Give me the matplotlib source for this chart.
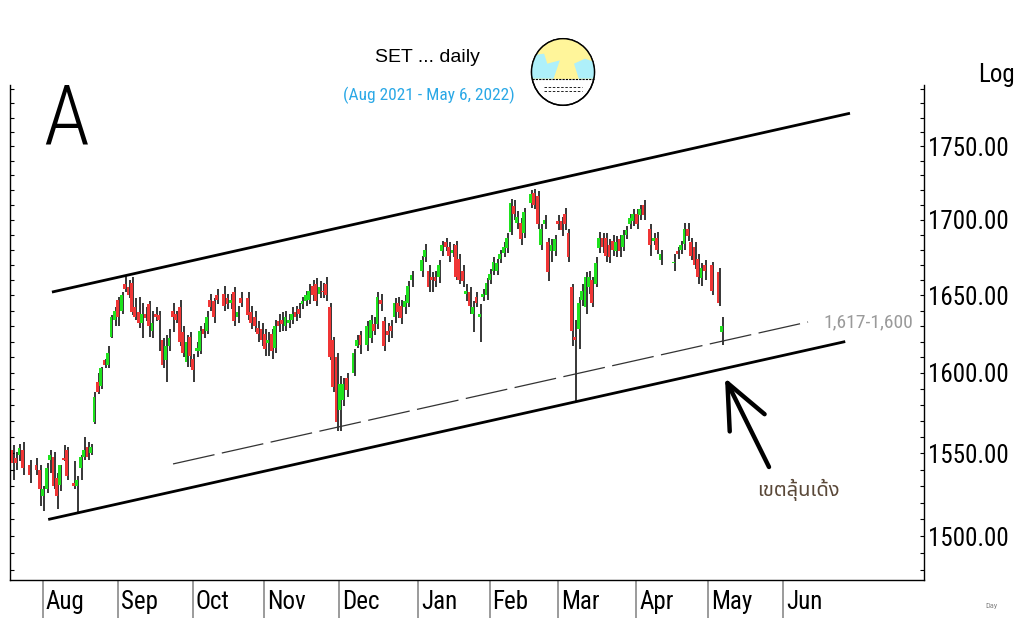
import numpy as np
import pandas as pd
import matplotlib
matplotlib.use("Agg")
import matplotlib.pyplot as plt
from matplotlib import ticker
from matplotlib.patches import Ellipse, Polygon

# SET closed on these weekdays
holidays = ["2021-07-26", "2021-07-28", "2021-08-12", "2021-10-13", "2021-10-22",
            "2021-12-06", "2021-12-10", "2021-12-31", "2022-01-03", "2022-02-16",
            "2022-04-06", "2022-04-13", "2022-04-14", "2022-04-15", "2022-05-02",
            "2022-05-04"]

opens = [
    1552, 1547, 1549, 1552, 1543, 1543, 1540,
    1524, 1528, 1546, 1548, 1535, 1531, 1547, 1552, 1532, 1530, 1541, 1548, 1554, 1550, 1569, 1594, 1592, 1608, 1605, 1623, 1634,
    1647, 1640, 1657, 1655, 1658, 1642, 1639, 1632, 1638, 1644, 1627, 1638, 1637, 1621, 1608, 1617, 1640, 1638, 1642, 1626, 1607, 1623,
    1609, 1614, 1614, 1628, 1627, 1647, 1646, 1650, 1651, 1648, 1645, 1652, 1636, 1648, 1648, 1639, 1636, 1629, 1628,
    1625, 1619, 1625, 1616, 1633, 1634, 1630, 1632, 1634, 1639, 1641, 1644, 1646, 1647, 1656, 1657, 1651, 1653, 1657, 1642, 1621, 1610,
    1577, 1583, 1597, 1600, 1617, 1624, 1618, 1622, 1631, 1631, 1647, 1633, 1627, 1630, 1636, 1645, 1643, 1642, 1645, 1660,
    1666, 1675, 1666, 1662, 1662, 1662, 1679, 1685, 1682, 1678, 1683, 1674, 1666, 1651, 1652, 1638, 1649, 1636, 1649, 1650,
    1660, 1666, 1666, 1674, 1678, 1681, 1692, 1709, 1698, 1698, 1691, 1711, 1718, 1716, 1683, 1697, 1685, 1679, 1679,
    1699, 1699, 1704, 1691, 1655, 1623, 1628, 1647, 1642, 1655, 1660, 1657, 1681, 1688, 1688, 1683, 1686, 1679, 1687, 1682, 1690, 1697, 1699,
    1704, 1703, 1710, 1694, 1686, 1688, 1673, 1671, 1679, 1680, 1684, 1694, 1685, 1682, 1674, 1661, 1670,
    1670, 1665, 1626,
]
highs = [
    1555, 1551, 1556, 1557, 1546, 1547, 1543,
    1530, 1544, 1552, 1551, 1538, 1543, 1555, 1554, 1545, 1536, 1549, 1560, 1557, 1556, 1588, 1600, 1604, 1609, 1617, 1637, 1642,
    1649, 1652, 1663, 1660, 1662, 1648, 1649, 1645, 1642, 1646, 1640, 1642, 1640, 1622, 1624, 1628, 1645, 1640, 1647, 1630, 1624, 1626,
    1612, 1620, 1630, 1632, 1640, 1651, 1648, 1654, 1656, 1651, 1651, 1655, 1643, 1652, 1652, 1643, 1640, 1633, 1632,
    1628, 1626, 1628, 1634, 1638, 1639, 1640, 1638, 1642, 1643, 1645, 1649, 1653, 1657, 1660, 1661, 1659, 1658, 1662, 1645, 1623, 1613,
    1598, 1597, 1600, 1615, 1624, 1627, 1633, 1637, 1636, 1652, 1651, 1636, 1632, 1634, 1648, 1649, 1647, 1650, 1659, 1666,
    1676, 1684, 1670, 1665, 1666, 1673, 1686, 1688, 1685, 1684, 1686, 1677, 1670, 1657, 1655, 1646, 1652, 1644, 1654, 1661,
    1667, 1675, 1674, 1680, 1685, 1691, 1714, 1713, 1706, 1701, 1708, 1720, 1721, 1719, 1697, 1703, 1688, 1687, 1690,
    1703, 1702, 1708, 1694, 1657, 1634, 1649, 1657, 1665, 1666, 1662, 1675, 1692, 1691, 1691, 1687, 1690, 1689, 1690, 1693, 1696, 1704, 1707,
    1707, 1710, 1713, 1697, 1691, 1692, 1680, 1677, 1682, 1686, 1698, 1698, 1688, 1685, 1677, 1671, 1673,
    1672, 1668, 1636,
]
lows = [
    1534, 1540, 1545, 1537, 1532, 1537, 1518,
    1515, 1526, 1538, 1528, 1516, 1527, 1545, 1534, 1528, 1514, 1534, 1546, 1546, 1549, 1568, 1587, 1590, 1603, 1603, 1622, 1630,
    1630, 1638, 1652, 1648, 1637, 1634, 1629, 1622, 1633, 1623, 1622, 1633, 1614, 1603, 1594, 1614, 1626, 1632, 1617, 1610, 1604, 1604,
    1594, 1610, 1612, 1622, 1625, 1640, 1632, 1644, 1640, 1641, 1641, 1630, 1632, 1642, 1634, 1628, 1626, 1620, 1617,
    1611, 1611, 1609, 1613, 1626, 1627, 1627, 1629, 1631, 1633, 1635, 1641, 1643, 1644, 1646, 1643, 1648, 1648, 1646, 1608, 1588, 1564,
    1564, 1579, 1585, 1598, 1616, 1612, 1614, 1619, 1624, 1628, 1640, 1614, 1620, 1622, 1632, 1635, 1631, 1638, 1642, 1655,
    1662, 1672, 1652, 1652, 1655, 1658, 1676, 1679, 1672, 1675, 1660, 1657, 1655, 1646, 1638, 1626, 1642, 1620, 1646, 1647,
    1657, 1663, 1663, 1671, 1675, 1678, 1690, 1700, 1694, 1683, 1688, 1708, 1707, 1694, 1680, 1694, 1659, 1672, 1676,
    1693, 1689, 1693, 1672, 1617, 1582, 1615, 1643, 1638, 1651, 1642, 1655, 1678, 1678, 1672, 1671, 1676, 1675, 1675, 1679, 1687, 1694, 1696,
    1694, 1700, 1700, 1676, 1683, 1677, 1670, 1666, 1674, 1677, 1680, 1686, 1673, 1667, 1657, 1656, 1660,
    1650, 1643, 1618,
]
closes = [
    1544, 1544, 1553, 1541, 1537, 1540, 1528,
    1528, 1541, 1549, 1530, 1524, 1543, 1546, 1536, 1530, 1534, 1548, 1552, 1548, 1554, 1585, 1588, 1603, 1605, 1613, 1636, 1640,
    1636, 1650, 1654, 1650, 1639, 1636, 1632, 1638, 1635, 1630, 1632, 1636, 1634, 1605, 1617, 1622, 1636, 1634, 1620, 1613, 1620, 1611,
    1602, 1616, 1627, 1625, 1636, 1642, 1636, 1647, 1643, 1644, 1647, 1633, 1639, 1645, 1637, 1632, 1630, 1625, 1621,
    1615, 1621, 1614, 1630, 1630, 1631, 1636, 1634, 1638, 1636, 1638, 1646, 1650, 1653, 1650, 1646, 1655, 1652, 1650, 1610, 1591, 1569,
    1593, 1593, 1589, 1613, 1621, 1618, 1630, 1634, 1627, 1649, 1644, 1617, 1624, 1627, 1645, 1639, 1635, 1646, 1656, 1663,
    1673, 1680, 1655, 1660, 1659, 1670, 1683, 1682, 1676, 1680, 1662, 1660, 1659, 1653, 1643, 1642, 1645, 1638, 1651, 1658,
    1664, 1672, 1671, 1677, 1682, 1688, 1711, 1704, 1702, 1687, 1705, 1717, 1710, 1697, 1694, 1700, 1665, 1683, 1687,
    1697, 1693, 1697, 1675, 1627, 1621, 1645, 1653, 1662, 1662, 1645, 1671, 1688, 1682, 1676, 1675, 1680, 1685, 1679, 1690, 1693, 1701, 1704,
    1697, 1707, 1703, 1683, 1688, 1680, 1677, 1672, 1677, 1683, 1694, 1689, 1676, 1670, 1662, 1668, 1666,
    1653, 1645, 1630,
]

price_ticks = [1500, 1550, 1600, 1650, 1700, 1750]

# trend lines: (weekday index, price)
upper_x, upper_y = [11.7, 245.7], [1652, 1773]
lower_x, lower_y = [10.6, 244.3], [1510, 1620]
mid_x, mid_y = [47.2, 233.4], [1543.5, 1632.6]

narrow = ["Roboto Condensed", "Liberation Sans", "DejaVu Sans"]
thai_fonts = ["Noto Sans Thai", "Loma", "DejaVu Sans"]
plt.rcParams["font.family"] = narrow

all_days = pd.bdate_range("2021-07-20", "2022-06-30")
trade_days = pd.bdate_range("2021-07-20", "2022-05-06").drop(pd.to_datetime(holidays))
pos = all_days.get_indexer(trade_days)

o = np.array(opens, float)
h = np.array(highs, float)
l = np.array(lows, float)
c = np.array(closes, float)
up = c >= o

fig = plt.figure(figsize=(10.24, 6.3), dpi=100)
ax = fig.add_axes([10 / 1024, 50 / 630, 914 / 1024, 495 / 630])
ax.set_yscale("log")

ax.vlines(pos + 0.45, np.minimum(l, np.minimum(o, c)), np.maximum(h, np.maximum(o, c)),
          color="black", lw=1.1, zorder=2)
body_lo = np.minimum(o, c)
body_h = np.maximum(np.abs(c - o), 0.9)
ax.bar(pos, body_h, bottom=body_lo, width=0.8,
       color=np.where(up, "#1ee21e", "#f03535"), linewidth=0, zorder=3)

ax.plot(upper_x, upper_y, color="black", lw=2.0, solid_capstyle="butt", zorder=4)
ax.plot(lower_x, lower_y, color="black", lw=2.0, solid_capstyle="butt", zorder=4)
ax.plot(mid_x, mid_y, color="#333333", lw=0.9, dashes=(34, 6), zorder=4)

ax.set_xlim(-0.6, 267.4)
ax.set_ylim(1474.3, 1792.9)

# month ticks: long tick at month start, name just right of it
month_first = all_days.to_series().groupby(all_days.to_period("M")).first()[1:]
mpos = all_days.get_indexer(month_first.values)
ax.set_xticks(mpos)
ax.set_xticklabels([])
ax.set_xticks(mpos + 0.9, minor=True)
ax.set_xticklabels(month_first.dt.strftime("%b"), minor=True, ha="left")
ax.tick_params(axis="x", which="major", direction="out", length=27, width=1.1, color="#808080")
ax.tick_params(axis="x", which="minor", length=0, pad=7, labelsize=18)

ax.yaxis.set_major_locator(ticker.FixedLocator(price_ticks))
ax.yaxis.set_major_formatter(ticker.FuncFormatter(lambda v, p: "%.2f" % v))
ax.yaxis.set_minor_locator(ticker.FixedLocator(np.arange(1480, 1800, 10)))
ax.yaxis.set_minor_formatter(ticker.NullFormatter())
ax.tick_params(axis="y", which="both", left=True, right=True, labelleft=False, labelright=True,
               direction="in", length=3, width=0.8, pad=3, labelsize=18)
ax.spines["top"].set_visible(False)
for s in ["left", "right", "bottom"]:
    ax.spines[s].set_linewidth(1.0)

# texts
fig.text(427 / 1024, 1 - 57 / 630, "SET ... daily", ha="center", va="center", fontsize=14,
         family=["Liberation Sans", "DejaVu Sans"])
fig.text(429 / 1024, 1 - 95 / 630, "(Aug 2021 - May 6, 2022)", ha="center", va="center",
         fontsize=12.5, color="#2aa8e6")
fig.text(43 / 1024, 1 - 144 / 630, "A", ha="left", va="baseline", fontsize=60, fontweight="light")
fig.text(978 / 1024, 1 - 75 / 630, "Log", ha="left", va="center", fontsize=18)
fig.text(823 / 1024, 1 - 322 / 630, "1,617-1,600", ha="left", va="center", fontsize=14, color="#9a9a9a")
fig.text(798 / 1024, 1 - 490 / 630, "เขตลุ้นเด้ง", ha="center", va="center", fontsize=14.5,
         color="#5a4838", family=thai_fonts)
fig.text(985 / 1024, 1 - 606 / 630, "Day", ha="left", va="center", fontsize=6, color="#888888")

ax.annotate("", xy=(725, 630 - 378), xytext=(769, 630 - 467), xycoords="figure pixels",
            arrowprops=dict(arrowstyle="->,head_length=1.6,head_width=0.7", lw=3.2,
                            color="black", mutation_scale=20, shrinkA=0, shrinkB=0))

# globe icon
ic = fig.add_axes([529 / 1024, 1 - 108 / 630, 68 / 1024, 72 / 630])
ic.set_xlim(-1.08, 1.08)
ic.set_ylim(-1.08, 1.08)
ic.axis("off")
rim = Ellipse((0, 0), 2, 2, facecolor="white", edgecolor="black", lw=1.0, zorder=1)
ic.add_patch(rim)
top = Polygon([[-1.1, -0.2], [1.1, -0.2], [1.1, 1.1], [-1.1, 1.1]], facecolor="#fff59a",
              edgecolor="none", zorder=2)
ic.add_patch(top)
top.set_clip_path(rim)
for pts in ([[-1, 0.5], [-0.6, 0.55], [-0.5, 0.25], [-0.1, 0.35], [-0.3, -0.2], [-1, -0.2]],
            [[0.35, 0.25], [0.7, 0.4], [1, 0.3], [1, -0.2], [0.5, -0.2]]):
    p = Polygon(pts, facecolor="#aef0fa", edgecolor="none", zorder=3)
    ic.add_patch(p)
    p.set_clip_path(rim)
ic.add_patch(Ellipse((0, 0), 2, 2, facecolor="none", edgecolor="black", lw=1.0, zorder=5))
ic.plot([-0.97, 0.97], [-0.2, -0.2], color="black", lw=0.8, ls=(0, (2, 1)), zorder=6)
ic.plot([-0.6, 0.6], [-0.45, -0.45], color="black", lw=0.6, ls=(0, (3, 2)), zorder=6)
ic.plot([-0.6, 0.6], [-0.58, -0.58], color="black", lw=0.6, ls=(0, (3, 2)), zorder=6)

fig.savefig("out.png", dpi=100)
